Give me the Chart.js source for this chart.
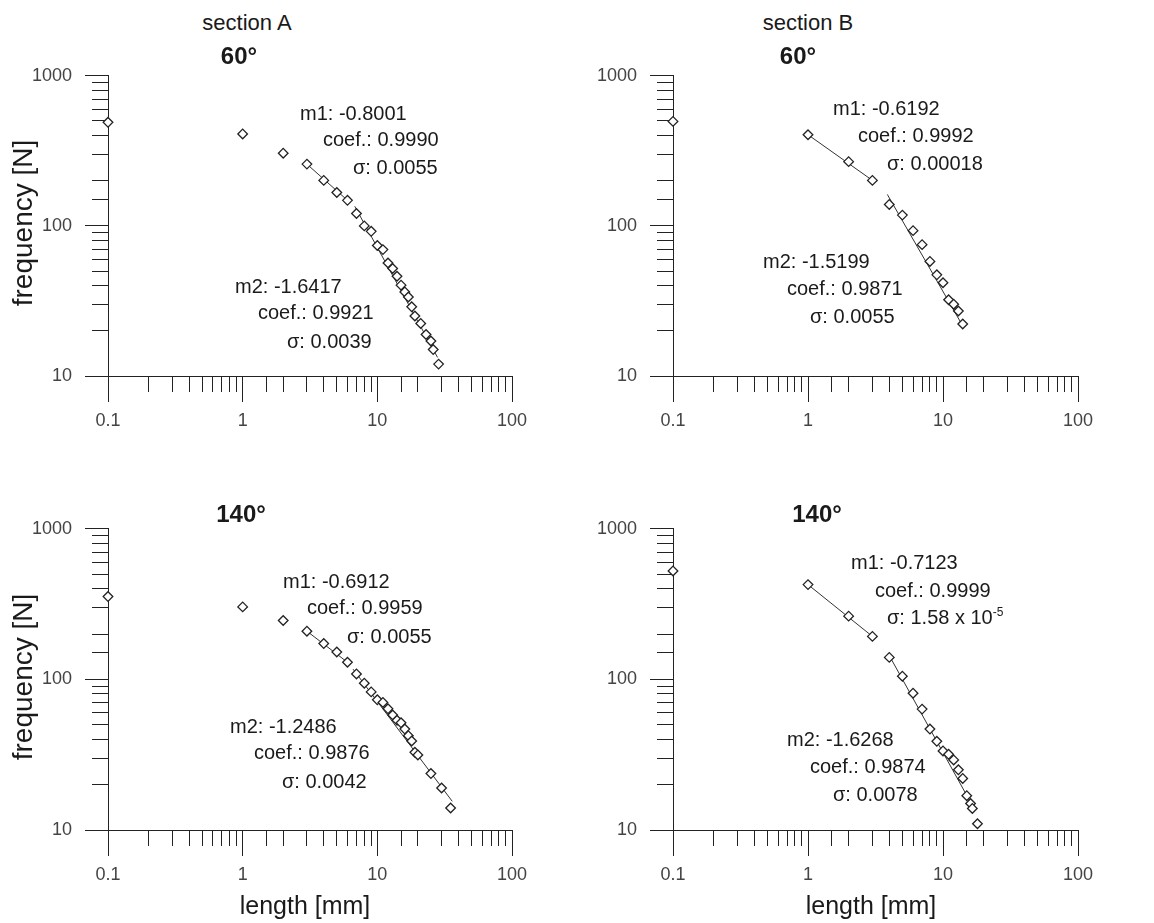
<!DOCTYPE html>
<html lang="en">
<head>
  <meta charset="UTF-8" />
  <title>frequency vs length</title>
  <style>
    *, html {
      margin: 0;
      padding: 0;
      box-sizing: border-box;
    }

    body {
      width: 1154px;
      height: 923px;
      background: white;
      position: relative;
      overflow: hidden;
      font-family: 'Liberation Sans', Arial, sans-serif;
      color: #1a1a1a;
    }

    canvas {
      position: absolute;
    }

    .txt {
      position: absolute;
      white-space: nowrap;
      font-size: 20px;
      transform: translateY(-50%);
    }

    .mid {
      position: absolute;
      white-space: nowrap;
      transform: translate(-50%, -50%);
    }

    .sec {
      font-size: 22px;
    }

    .ang {
      font-size: 24px;
      font-weight: bold;
    }

    .ax {
      font-size: 25px;
    }

    .rot {
      font-size: 28px;
      transform: translate(-50%, -50%) rotate(-90deg);
    }

    sup {
      font-size: 12px;
      vertical-align: 8px;
    }
  </style>
</head>
<body>
  <canvas id="cA60" width="542" height="388" style="left:0;top:52px"></canvas>
  <canvas id="cB60" width="543" height="388" style="left:565px;top:52px"></canvas>
  <canvas id="cA140" width="542" height="389" style="left:0;top:505px"></canvas>
  <canvas id="cB140" width="543" height="389" style="left:565px;top:505px"></canvas>

  <div class="mid sec" style="left:247px;top:23px">section A</div>
  <div class="mid sec" style="left:808px;top:23px">section B</div>
  <div class="mid ang" style="left:239px;top:56px">60°</div>
  <div class="mid ang" style="left:798px;top:56px">60°</div>
  <div class="mid ang" style="left:241px;top:514px">140°</div>
  <div class="mid ang" style="left:817px;top:514px">140°</div>

  <div class="mid ax rot" style="left:23px;top:223px">frequency [N]</div>
  <div class="mid ax rot" style="left:23px;top:677px">frequency [N]</div>
  <div class="mid ax" style="left:305px;top:905px">length [mm]</div>
  <div class="mid ax" style="left:871px;top:905px">length [mm]</div>

  <!-- section A, 60 -->
  <div class="txt" style="left:300px;top:113px">m1: -0.8001</div>
  <div class="txt" style="left:323px;top:139px">coef.: 0.9990</div>
  <div class="txt" style="left:353px;top:167px">σ: 0.0055</div>
  <div class="txt" style="left:235px;top:286px">m2: -1.6417</div>
  <div class="txt" style="left:258px;top:312px">coef.: 0.9921</div>
  <div class="txt" style="left:287px;top:341px">σ: 0.0039</div>

  <!-- section B, 60 -->
  <div class="txt" style="left:833px;top:108px">m1: -0.6192</div>
  <div class="txt" style="left:858px;top:135px">coef.: 0.9992</div>
  <div class="txt" style="left:887px;top:163px">σ: 0.00018</div>
  <div class="txt" style="left:763px;top:261px">m2: -1.5199</div>
  <div class="txt" style="left:787px;top:288px">coef.: 0.9871</div>
  <div class="txt" style="left:810px;top:316px">σ: 0.0055</div>

  <!-- section A, 140 -->
  <div class="txt" style="left:283px;top:581px">m1: -0.6912</div>
  <div class="txt" style="left:307px;top:607px">coef.: 0.9959</div>
  <div class="txt" style="left:347px;top:636px">σ: 0.0055</div>
  <div class="txt" style="left:230px;top:726px">m2: -1.2486</div>
  <div class="txt" style="left:254px;top:752px">coef.: 0.9876</div>
  <div class="txt" style="left:282px;top:781px">σ: 0.0042</div>

  <!-- section B, 140 -->
  <div class="txt" style="left:851px;top:562px">m1: -0.7123</div>
  <div class="txt" style="left:875px;top:590px">coef.: 0.9999</div>
  <div class="txt" style="left:887px;top:617px">σ: 1.58 x 10<sup>-5</sup></div>
  <div class="txt" style="left:787px;top:739px">m2: -1.6268</div>
  <div class="txt" style="left:810px;top:766px">coef.: 0.9874</div>
  <div class="txt" style="left:833px;top:794px">σ: 0.0078</div>

  <script src="https://cdn.jsdelivr.net/npm/chart.js"></script>
  <script>
    // section A, 60 deg
    const lenA60 = [0.1, 1, 2, 3, 4, 5, 6, 7, 8, 9, 10, 11, 12, 13, 14, 15, 16, 17, 18, 19, 21, 23, 25, 26, 28.5];
    const freqA60 = [490, 410, 305, 258, 201, 167, 148, 121, 100, 92, 74, 69.5, 56.6, 52, 46.2, 40.3, 36.3, 33.6, 28.9, 25.1, 22.4, 18.9, 17.1, 15, 12];
    const fitA60m1 = { x: [3, 6], y: [258, 148] };
    const fitA60m2 = { x: [6.8, 28], y: [135, 13.3] };

    // section B, 60 deg
    const lenB60 = [0.1, 1, 2, 3, 4, 5, 6, 7, 8, 9, 10, 11, 12, 13, 14];
    const freqB60 = [497, 405, 268, 201, 139, 118, 93, 75, 58, 47.2, 41.8, 32.2, 30.1, 27.1, 22.2];
    const fitB60m1 = { x: [1, 3], y: [405, 201] };
    const fitB60m2 = { x: [3.87, 14.2], y: [162, 21.1] };

    // section A, 140 deg
    const lenA140 = [0.1, 1, 2, 3, 4, 5, 6, 7, 8, 9, 10, 11, 12, 13, 14, 15, 16, 17, 18, 19, 20, 25, 30, 35];
    const freqA140 = [355, 303, 246, 209, 173, 152, 130, 108.7, 94.4, 82.6, 73.2, 70.3, 63.8, 58, 53.5, 51.5, 46.8, 42.3, 39, 32.8, 31.5, 23.7, 19, 14];
    const fitA140m1 = { x: [3, 6], y: [209, 130] };
    const fitA140m2 = { x: [6.6, 36], y: [117, 15.5] };

    // section B, 140 deg
    const lenB140 = [0.1, 1, 2, 3, 4, 5, 6, 7, 8, 9, 10, 11, 12, 13, 14, 15, 16, 16.5, 18];
    const freqB140 = [525, 426, 263, 193, 140, 105, 81, 63.5, 46.8, 38.8, 33.5, 31.8, 29.2, 25.1, 22, 16.9, 15, 13.9, 11];
    const fitB140m1 = { x: [1, 3], y: [426, 193] };
    const fitB140m2 = { x: [4, 17.2], y: [144, 13.6] };

    const xRange = [0.1, 100];
    const yRange = [10, 1000];

    const ink = '#222';
    const tickFont = { family: "'Liberation Sans', Arial, sans-serif", size: 18 };

    function isDecade(v) {
      const e = Math.log10(v);
      return Math.abs(e - Math.round(e)) < 1e-6;
    }

    function toPoints(xs, ys) {
      return xs.map((x, i) => ({ x: x, y: ys[i] }));
    }

    function fitLine(f) {
      return {
        data: toPoints(f.x, f.y),
        showLine: true,
        borderColor: '#333',
        borderWidth: 1,
        pointRadius: 0,
        order: 2
      };
    }

    function buatGrafik(id, len, freq, m1, m2) {
      const ctx = document.getElementById(id).getContext('2d');
      return new Chart(ctx, {
        type: 'scatter',
        data: {
          datasets: [
            {
              data: toPoints(len, freq),
              pointStyle: 'rectRot',
              pointRadius: 4.8,
              borderWidth: 1.3,
              borderColor: ink,
              backgroundColor: 'white',
              clip: false,
              order: 1
            },
            fitLine(m1),
            fitLine(m2)
          ]
        },
        options: {
          responsive: false,
          devicePixelRatio: 1,
          animation: false,
          layout: { autoPadding: false, padding: { left: 0, top: 16, right: 30, bottom: 0 } },
          plugins: { legend: { display: false }, tooltip: { enabled: false } },
          scales: {
            x: {
              type: 'logarithmic',
              min: xRange[0],
              max: xRange[1],
              afterFit: s => { s.height = 64; },
              border: { display: true, color: ink, width: 1 },
              grid: {
                drawOnChartArea: false,
                drawTicks: true,
                tickLength: 26,
                tickColor: ink,
                tickWidth: 1,
                tickBorderDash: c => (c.tick && !isDecade(c.tick.value)) ? [15, 100] : []
              },
              ticks: {
                autoSkip: false,
                maxRotation: 0,
                padding: 8,
                color: '#444',
                font: tickFont,
                callback: v => isDecade(v) ? String(+v.toPrecision(3)) : ''
              }
            },
            y: {
              type: 'logarithmic',
              min: yRange[0],
              max: yRange[1],
              afterFit: s => { s.width = 108; },
              border: { display: true, color: ink, width: 1 },
              grid: {
                drawOnChartArea: false,
                drawTicks: true,
                tickLength: 23,
                tickColor: ink,
                tickWidth: 1,
                tickBorderDash: c => (c.tick && !isDecade(c.tick.value)) ? [0, 7, 16, 100] : []
              },
              ticks: {
                autoSkip: false,
                padding: 13,
                color: '#444',
                font: tickFont,
                callback: v => isDecade(v) ? String(+v.toPrecision(3)) : ''
              }
            }
          }
        }
      });
    }

    buatGrafik('cA60', lenA60, freqA60, fitA60m1, fitA60m2);
    buatGrafik('cB60', lenB60, freqB60, fitB60m1, fitB60m2);
    buatGrafik('cA140', lenA140, freqA140, fitA140m1, fitA140m2);
    buatGrafik('cB140', lenB140, freqB140, fitB140m1, fitB140m2);
  </script>
</body>
</html>
